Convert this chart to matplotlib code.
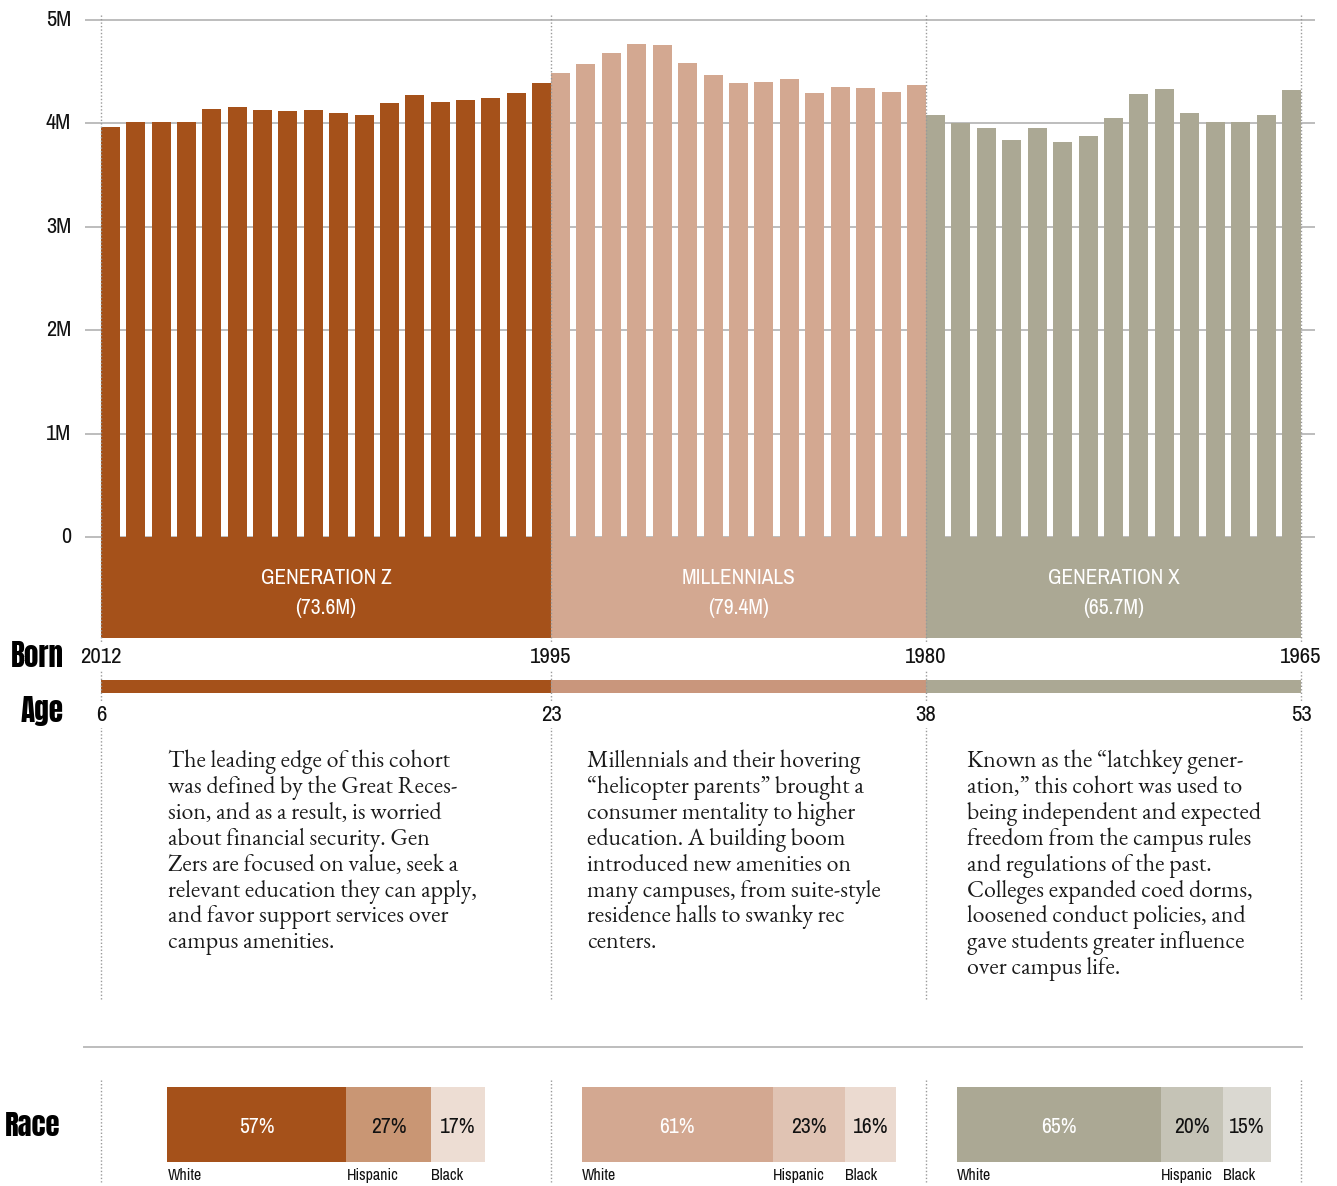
import matplotlib
matplotlib.use('Agg')
import matplotlib.pyplot as plt
from matplotlib.lines import Line2D
from matplotlib.transforms import blended_transform_factory

# ---------------- data ----------------
generations = ['GENERATION Z', 'MILLENNIALS', 'GENERATION X']
gen_totals = ['(73.6M)', '(79.4M)', '(65.7M)']
born_years = ['2012', '1995', '1980', '1965']
ages = ['6', '23', '38', '53']

# annual births (millions), ordered from most recent birth year to oldest
genz_births = [3.97, 4.01, 4.01, 4.01, 4.14, 4.16, 4.13, 4.12, 4.13, 4.10,
               4.08, 4.20, 4.27, 4.21, 4.23, 4.25, 4.29, 4.39]
mill_births = [4.49, 4.57, 4.68, 4.77, 4.76, 4.58, 4.47, 4.39, 4.40, 4.43,
               4.29, 4.35, 4.34, 4.30, 4.37]
genx_births = [4.08, 4.00, 3.96, 3.84, 3.96, 3.82, 3.88, 4.05, 4.28, 4.33,
               4.10, 4.01, 4.01, 4.08, 4.32]

ytick_values = [0, 1, 2, 3, 4, 5]
ytick_labels = ['0', '1M', '2M', '3M', '4M', '5M']

race_categories = ['White', 'Hispanic', 'Black']
genz_race = [57, 27, 17]
mill_race = [61, 23, 16]
genx_race = [65, 20, 15]

texts = [
    ["The leading edge of this cohort",
     "was defined by the Great Reces-",
     "sion, and as a result, is worried",
     "about financial security. Gen",
     "Zers are focused on value, seek a",
     "relevant education they can apply,",
     "and favor support services over",
     "campus amenities."],
    ["Millennials and their hovering",
     "\u201chelicopter parents\u201d brought a",
     "consumer mentality to higher",
     "education. A building boom",
     "introduced new amenities on",
     "many campuses, from suite-style",
     "residence halls to swanky rec",
     "centers."],
    ["Known as the \u201clatchkey gener-",
     "ation,\u201d this cohort was used to",
     "being independent and expected",
     "freedom from the campus rules",
     "and regulations of the past.",
     "Colleges expanded coed dorms,",
     "loosened conduct policies, and",
     "gave students greater influence",
     "over campus life."],
]

# ---------------- styles ----------------
bar_colors = ['#A5511A', '#D3A891', '#ABA894']
age_colors = ['#A5511A', '#C9967C', '#ABA894']
race_colors = [['#A5511A', '#C99674', '#EDDDD3'],
               ['#D3A891', '#E0C3B3', '#EBDAD0'],
               ['#ABA894', '#C5C3B6', '#DAD8D1']]
race_text_colors = ['white', '#111111', '#111111']

COND = ['Archivo Narrow', 'Asap Condensed', 'DejaVu Sans']
HEAVY = ['Anton', 'Archivo Narrow', 'DejaVu Sans']
SERIF = ['EB Garamond', 'Cormorant Garamond', 'Liberation Serif', 'DejaVu Serif']
GRID = '#BDBDBD'
DOT = '#999999'

W, H = 1337, 1186
fig = plt.figure(figsize=(W / 100, H / 100), dpi=100)


def fx(px):
    return px / W


def fy(py):
    return 1 - py / H


L, R = 101, 1301
births = [genz_births, mill_births, genx_births]
counts = [len(b) for b in births]
starts = [sum(counts[:i]) for i in range(3)]
NT = sum(counts)
SLOT = (R - L) / NT
BW = 0.76

# ---------------- main bar axes ----------------
y_zero_px, y_top_px, y_bot_px = 537, 20, 638
unit_px = (y_zero_px - y_top_px) / 5.0
ybot = -(y_bot_px - y_zero_px) / unit_px
ax = fig.add_axes([fx(L), fy(y_bot_px), fx(R) - fx(L), fy(y_top_px) - fy(y_bot_px)])
ax.set_xlim(0, NT)
ax.set_ylim(ybot, 5)
for s in ax.spines.values():
    s.set_visible(False)
ax.set_xticks([])
ax.set_yticks(ytick_values)
ax.set_yticklabels(ytick_labels, fontsize=16, family=COND, color='#111111')
ax.tick_params(axis='y', length=0, pad=21.5)
for lab in ax.get_yticklabels():
    lab.set_verticalalignment('center')

gx0 = (85 - L) / SLOT
gx1 = (1315 - L) / SLOT
for v in ytick_values:
    ax.plot([gx0, gx1], [v, v], color=GRID, lw=1.4, zorder=0, clip_on=False,
            solid_capstyle='butt')

for g in range(3):
    s, n = starts[g], counts[g]
    step = (n - BW) / (n - 1)
    lefts = [s + i * step for i in range(n)]
    ax.bar(lefts, births[g], width=BW, align='edge', color=bar_colors[g],
           zorder=2, linewidth=0)
    ax.bar(s, -ybot, bottom=ybot, width=n, align='edge', color=bar_colors[g],
           zorder=2, linewidth=0)
    ax.text(s + n / 2, -0.40, generations[g], ha='center', va='center',
            color='white', fontsize=15.3, family=COND, zorder=5)
    ax.text(s + n / 2, -0.69, gen_totals[g], ha='center', va='center',
            color='white', fontsize=15.5, family=COND, zorder=5)

bounds = [starts[0], starts[1], starts[2], NT]
blend = blended_transform_factory(ax.transData, fig.transFigure)

for b in bounds:
    fig.add_artist(Line2D([b, b], [fy(15), fy(1000)], transform=blend,
                          color=DOT, lw=1.0, linestyle=(0, (1, 1.5)), zorder=4))

# Born / Age
fig.text(fx(64), fy(656), 'Born', ha='right', va='center', fontsize=21,
         family=HEAVY, color='black')
fig.text(fx(64), fy(711), 'Age', ha='right', va='center', fontsize=21,
         family=HEAVY, color='black')
for b, yr, ag in zip(bounds, born_years, ages):
    xf = ax.transData.transform((b, 0))[0] / W
    fig.text(xf, fy(657), yr, ha='center', va='center', fontsize=16.5,
             family=COND, color='#111111', zorder=6,
             bbox=dict(facecolor='white', edgecolor='none', pad=2))
    fig.text(xf, fy(715), ag, ha='center', va='center', fontsize=16.5,
             family=COND, color='#111111', zorder=6,
             bbox=dict(facecolor='white', edgecolor='none', pad=2))

age_ax = fig.add_axes([fx(L), fy(693), fx(R) - fx(L), fy(680) - fy(693)])
age_ax.set_xlim(0, NT)
age_ax.set_ylim(0, 1)
age_ax.axis('off')
for g in range(3):
    age_ax.barh(0.5, counts[g], left=starts[g], height=1, color=age_colors[g],
                linewidth=0, zorder=1)

# paragraphs
col_x = [168, 587, 967]
for cx, lines in zip(col_x, texts):
    for i, line in enumerate(lines):
        fig.text(fx(cx), fy(767 + i * 25.9), line, ha='left', va='baseline',
                 fontsize=17.2, family=SERIF, color='#1a1a1a')

fig.add_artist(Line2D([fx(84), fx(1302)], [fy(1047), fy(1047)], color=GRID, lw=1.4))

# ---------------- race ----------------
fig.text(fx(60), fy(1126), 'Race', ha='right', va='center', fontsize=20.5,
         family=HEAVY, color='black')
race_ax = fig.add_axes([fx(L), fy(1162), fx(R) - fx(L), fy(1087) - fy(1162)])
race_ax.set_xlim(0, NT)
race_ax.set_ylim(0, 1)
race_ax.axis('off')
PCT = 3.14 / SLOT  # slot units per percentage point
races = [genz_race, mill_race, genx_race]
for g in range(3):
    vals = races[g]
    total = sum(vals)
    center = starts[g] + counts[g] / 2
    left = center - total * PCT / 2
    for k, (v, cat) in enumerate(zip(vals, race_categories)):
        race_ax.barh(0.5, v * PCT, left=left, height=1, color=race_colors[g][k],
                     linewidth=0)
        race_ax.text(left + v * PCT / 2, 0.47, f'{v}%', ha='center', va='center',
                     fontsize=15.5, family=COND, color=race_text_colors[k])
        race_ax.text(left, -0.18, cat, ha='left', va='center', fontsize=11.5,
                     family=COND, color='#111111', clip_on=False)
        left += v * PCT

for b in bounds:
    fig.add_artist(Line2D([b, b], [fy(1080), fy(1182)], transform=blend,
                          color=DOT, lw=1.0, linestyle=(0, (1, 1.5))))

fig.savefig('out.png', dpi=100, facecolor='white')
